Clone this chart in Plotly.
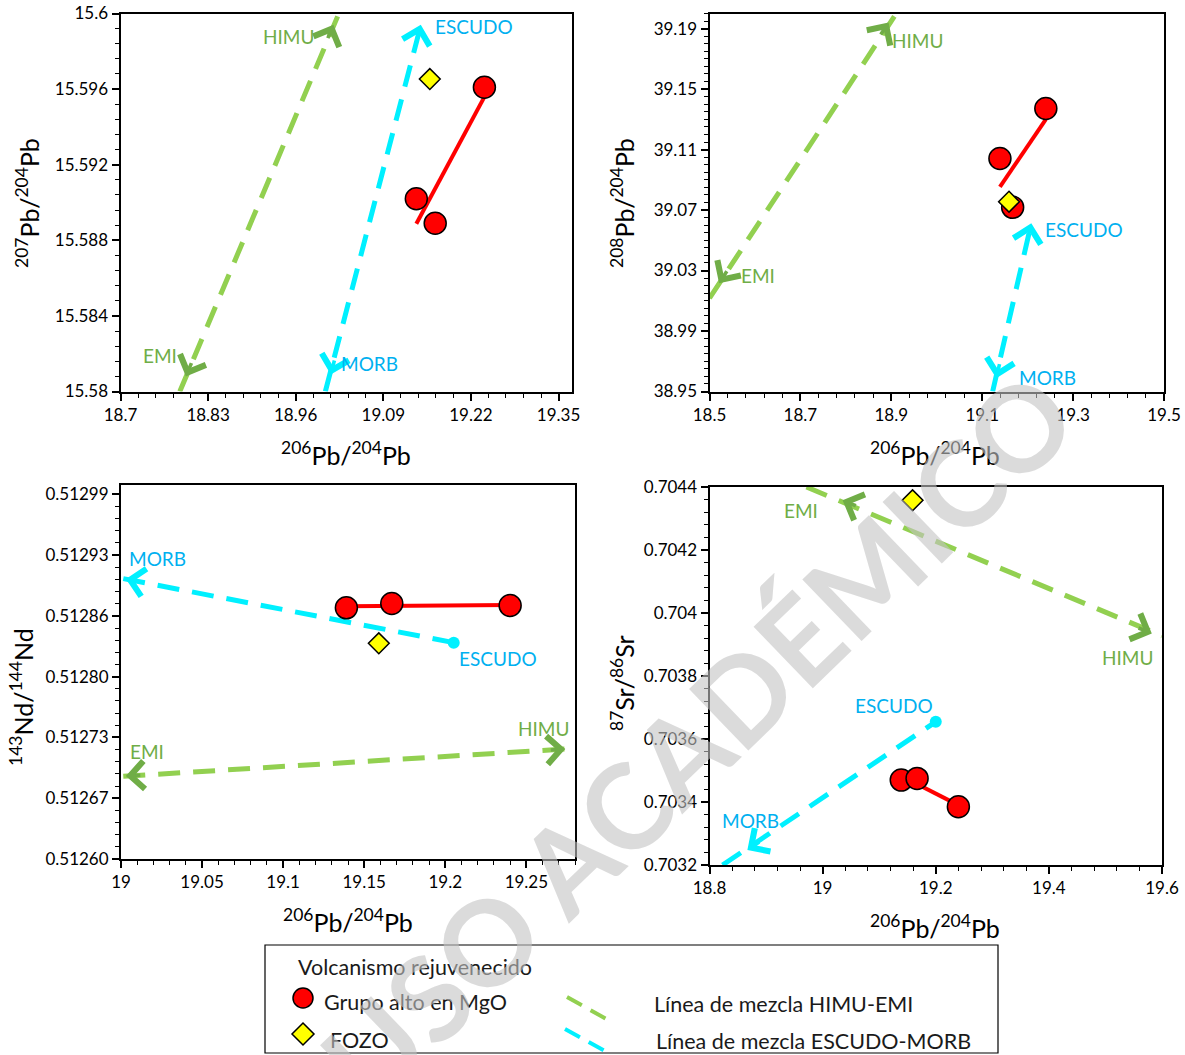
import numpy as np
import plotly.graph_objects as go

W, H = 1185, 1055
FONT = "Lato"
GREEN = "#92D050"
GREEN_D = "#70AD47"
CYAN = "#00F0FF"
BLUE = "#00B0F0"

# ---------------- data ----------------
# Volcanismo rejuvenecido - Grupo alto en MgO
pb206_mgo = [19.139, 19.167, 19.240]
pb207_mgo = [15.5902, 15.5889, 15.5961]
pb208_mgo = [39.1041, 39.0718, 39.1372]
nd143_mgo = [0.5128686, 0.5128732, 0.5128711]
sr87_mgo = [0.7034696, 0.7034749, 0.7033850]

# FOZO
pb206_fozo = [19.159]
pb207_fozo = [15.59653]
pb208_fozo = [39.0755]
nd143_fozo = [0.5128307]
sr87_fozo = [0.7043577]

# mixing lines: [EMI end, HIMU end] and [MORB end, ESCUDO end]
p1_himu_emi_x = [18.788, 19.024]
p1_himu_emi_y = [15.58, 15.6]
p1_escudo_morb_x = [19.004, 19.148]
p1_escudo_morb_y = [15.58, 15.5997]
p2_himu_emi_x = [18.5, 18.911]
p2_himu_emi_y = [39.0117, 39.2]
p2_escudo_morb_x = [19.123, 19.208]
p2_escudo_morb_y = [38.95, 39.0612]
p3_himu_emi_x = [19.0014, 19.2755]
p3_himu_emi_y = [0.5126884, 0.5127178]
p3_escudo_morb_x = [19.0014, 19.2052]
p3_escudo_morb_y = [0.5128999, 0.5128314]
p4_himu_emi_x = [18.9714, 19.6]
p4_himu_emi_y = [0.7044, 0.7039274]
p4_escudo_morb_x = [18.823, 19.2]
p4_escudo_morb_y = [0.7032, 0.7036546]

# arrow heads positions [EMI/MORB head, HIMU/ESCUDO head]; None -> round end
p1_himu_emi_head_x = [18.797, 19.016]
p1_himu_emi_head_y = [15.5808, 15.5994]
p1_escudo_morb_head_x = [19.012, 19.1456]
p1_escudo_morb_head_y = [15.5809, 15.5994]
p2_himu_emi_head_x = [18.521, 18.894]
p2_himu_emi_head_y = [39.0216, 39.194]
p2_escudo_morb_head_x = [19.131, 19.208]
p2_escudo_morb_head_y = [38.9588, 39.0612]
p3_himu_emi_head_x = [19.003, 19.274]
p3_himu_emi_head_y = [0.5126887, 0.5127176]
p3_escudo_morb_head_x = [19.003, None]
p3_escudo_morb_head_y = [0.5128994, None]
p4_himu_emi_head_x = [19.0353, 19.582]
p4_himu_emi_head_y = [0.704358, 0.7039348]
p4_escudo_morb_head_x = [18.867, None]
p4_escudo_morb_head_y = [0.7032476, None]

# end-member labels
label_text = ["HIMU", "EMI", "ESCUDO", "MORB"]
p1_label_x = [18.95, 18.758, 19.225, 19.07]
p1_label_y = [15.59877, 15.58189, 15.5993, 15.5815]
p2_label_x = [18.9585, 18.607, 19.323, 19.2435]
p2_label_y = [39.1819, 39.0264, 39.0572, 38.9595]
p3_label_x = [19.2606, 19.0158, 19.2323, 19.0227]
p3_label_y = [0.5127398, 0.5127153, 0.5128147, 0.5129219]
p4_label_x = [19.5395, 18.961, 19.126, 18.872]
p4_label_y = [0.7038576, 0.704326, 0.7037075, 0.7033406]

# tick labels
p1_xticks = ["18.7", "18.83", "18.96", "19.09", "19.22", "19.35"]
p1_yticks = ["15.58", "15.584", "15.588", "15.592", "15.596", "15.6"]
p2_xticks = ["18.5", "18.7", "18.9", "19.1", "19.3", "19.5"]
p2_yticks = ["38.95", "38.99", "39.03", "39.07", "39.11", "39.15", "39.19"]
p3_xticks = ["19", "19.05", "19.1", "19.15", "19.2", "19.25"]
p3_ytick_vals = [0.5126, 0.512665, 0.51273, 0.512795, 0.51286, 0.512925, 0.51299]
p3_ytick_text = ["0.51260", "0.51267", "0.51273", "0.51280", "0.51286", "0.51293", "0.51299"]
p4_xticks = ["18.8", "19", "19.2", "19.4", "19.6"]
p4_yticks = ["0.7032", "0.7034", "0.7036", "0.7038", "0.704", "0.7042", "0.7044"]

x_title = "<sup>206</sup>Pb/<sup>204</sup>Pb"
y_titles = ["<sup>207</sup>Pb/<sup>204</sup>Pb", "<sup>208</sup>Pb/<sup>204</sup>Pb",
            "<sup>143</sup>Nd/<sup>144</sup>Nd", "<sup>87</sup>Sr/<sup>86</sup>Sr"]


def px(v):
    return v / W


def py(v):
    return 1 - v / H


def minor_vals(rng, start, step):
    n = int(round((rng[1] - start) / step)) + 1
    return [start + k * step for k in range(n) if start + k * step <= rng[1] + step * 1e-6]


fig = go.Figure()

panels = [
    dict(n="", ydata=pb207_mgo, yfozo=pb207_fozo,
         he=(p1_himu_emi_x, p1_himu_emi_y, p1_himu_emi_head_x, p1_himu_emi_head_y),
         em=(p1_escudo_morb_x, p1_escudo_morb_y, p1_escudo_morb_head_x, p1_escudo_morb_head_y),
         lab=(p1_label_x, p1_label_y),
         xdom=(120.5, 572), ydom=(13.5, 391.5), xr=[18.7, 19.37], yr=[15.58, 15.6],
         xt=([float(t) for t in p1_xticks], p1_xticks), yt=([float(t) for t in p1_yticks], p1_yticks),
         xminor=(18.7, 0.026), yminor=(15.58, 0.0008),
         xtitle=(346, 453), ytitle=(27, 203)),
    dict(n="2", ydata=pb208_mgo, yfozo=pb208_fozo,
         he=(p2_himu_emi_x, p2_himu_emi_y, p2_himu_emi_head_x, p2_himu_emi_head_y),
         em=(p2_escudo_morb_x, p2_escudo_morb_y, p2_escudo_morb_head_x, p2_escudo_morb_head_y),
         lab=(p2_label_x, p2_label_y),
         xdom=(709.5, 1164), ydom=(13.5, 391.5), xr=[18.5, 19.5], yr=[38.95, 39.2],
         xt=([float(t) for t in p2_xticks], p2_xticks), yt=([float(t) for t in p2_yticks], p2_yticks),
         xminor=(18.5, 0.04), yminor=(38.95, 0.005),
         xtitle=(935, 453), ytitle=(622, 203)),
    dict(n="3", ydata=nd143_mgo, yfozo=nd143_fozo,
         he=(p3_himu_emi_x, p3_himu_emi_y, p3_himu_emi_head_x, p3_himu_emi_head_y),
         em=(p3_escudo_morb_x, p3_escudo_morb_y, p3_escudo_morb_head_x, p3_escudo_morb_head_y),
         lab=(p3_label_x, p3_label_y),
         xdom=(121, 575), ydom=(485, 859), xr=[19.0, 19.28], yr=[0.5126, 0.513],
         xt=([float(t) for t in p3_xticks], p3_xticks), yt=(p3_ytick_vals, p3_ytick_text),
         xminor=(19.0, 0.01), yminor=(0.5126, 0.000013),
         xtitle=(348, 920), ytitle=(21, 697)),
    dict(n="4", ydata=sr87_mgo, yfozo=sr87_fozo,
         he=(p4_himu_emi_x, p4_himu_emi_y, p4_himu_emi_head_x, p4_himu_emi_head_y),
         em=(p4_escudo_morb_x, p4_escudo_morb_y, p4_escudo_morb_head_x, p4_escudo_morb_head_y),
         lab=(p4_label_x, p4_label_y),
         xdom=(709.5, 1162), ydom=(487, 865), xr=[18.8, 19.6], yr=[0.7032, 0.7044],
         xt=([float(t) for t in p4_xticks], p4_xticks), yt=([float(t) for t in p4_yticks], p4_yticks),
         xminor=(18.8, 0.04), yminor=(0.7032, 0.00004),
         xtitle=(935, 926), ytitle=(622, 683)),
]

annotations = []
shapes = []
layout_axes = {}
tickfont = dict(family=FONT, size=17, color="black")
DASH = "22px,13px"

for i, p in enumerate(panels):
    n = p["n"]
    xa, ya = "x" + n, "y" + n
    common = dict(xaxis=xa, yaxis=ya, showlegend=False, hoverinfo="skip")
    sx = (p["xdom"][1] - p["xdom"][0]) / (p["xr"][1] - p["xr"][0])
    sy = (p["ydom"][1] - p["ydom"][0]) / (p["yr"][1] - p["yr"][0])

    # HIMU-EMI mixing line
    hx, hy, hhx, hhy = p["he"]
    fig.add_trace(go.Scatter(x=hx, y=hy, mode="lines",
                             line=dict(color=GREEN, width=5, dash=DASH), **common))
    # ESCUDO-MORB mixing line
    ex, ey, ehx, ehy = p["em"]
    fig.add_trace(go.Scatter(x=ex, y=ey, mode="lines",
                             line=dict(color=CYAN, width=5, dash=DASH), **common))
    if ehx[1] is None:
        fig.add_trace(go.Scatter(x=[ex[1]], y=[ey[1]], mode="markers",
                                 marker=dict(color=CYAN, size=12, symbol="circle"), **common))

    # arrow heads
    for lx, ly, hxs, hys, col in [(hx, hy, hhx, hhy, GREEN_D), (ex, ey, ehx, ehy, CYAN)]:
        length = np.hypot((lx[1] - lx[0]) * sx, (ly[1] - ly[0]) * sy)
        f = 16.0 / length
        for k in range(2):
            if hxs[k] is None:
                continue
            o = 1 - k
            tx = hxs[k] + f * (lx[o] - lx[k])
            ty = hys[k] + f * (ly[o] - ly[k])
            annotations.append(dict(x=hxs[k], y=hys[k], ax=tx, ay=ty, xref=xa, yref=ya,
                                    axref=xa, ayref=ya, text="", showarrow=True,
                                    arrowhead=4, arrowsize=1.5, arrowwidth=3.6,
                                    arrowcolor=col, standoff=0))

    # trend line of the high-MgO group
    m, b = np.polyfit(pb206_mgo, p["ydata"], 1)
    tx = np.array([min(pb206_mgo), max(pb206_mgo)])
    fig.add_trace(go.Scatter(x=tx, y=m * tx + b, mode="lines",
                             line=dict(color="#FF0000", width=4), **common))
    fig.add_trace(go.Scatter(x=pb206_mgo, y=p["ydata"], mode="markers",
                             marker=dict(color="#FF0000", size=22, symbol="circle",
                                         line=dict(color="black", width=1.5)), **common))
    fig.add_trace(go.Scatter(x=pb206_fozo, y=p["yfozo"], mode="markers",
                             marker=dict(color="#FFFF00", size=16, symbol="diamond",
                                         line=dict(color="black", width=1.5)), **common))

    # end-member labels
    lxs, lys = p["lab"]
    for t, x, y in zip(label_text, lxs, lys):
        col = GREEN_D if t in ("HIMU", "EMI") else BLUE
        annotations.append(dict(x=x, y=y, xref=xa, yref=ya, text=t, showarrow=False,
                                font=dict(family=FONT, size=19, color=col),
                                xanchor="center", yanchor="middle"))

    # axes
    axis_common = dict(showline=True, linecolor="black", linewidth=2, mirror=True,
                       showgrid=False, zeroline=False, ticks="outside", ticklen=7,
                       tickwidth=1.5, tickcolor="black", tickfont=tickfont,
                       tickmode="array", automargin=False)
    layout_axes["xaxis" + n] = dict(
        domain=[px(p["xdom"][0]), px(p["xdom"][1])], anchor=ya, range=p["xr"],
        tickvals=p["xt"][0], ticktext=p["xt"][1],
        minor=dict(tickmode="array", tickvals=minor_vals(p["xr"], *p["xminor"]),
                   ticks="outside", ticklen=4, tickwidth=1.2, tickcolor="black",
                   showgrid=False),
        **axis_common)
    layout_axes["yaxis" + n] = dict(
        domain=[py(p["ydom"][1]), py(p["ydom"][0])], anchor=xa, range=p["yr"],
        tickvals=p["yt"][0], ticktext=p["yt"][1],
        minor=dict(tickmode="array", tickvals=minor_vals(p["yr"], *p["yminor"]),
                   ticks="outside", ticklen=4, tickwidth=1.2, tickcolor="black",
                   showgrid=False),
        **axis_common)

    # axis titles
    annotations.append(dict(x=px(p["xtitle"][0]), y=py(p["xtitle"][1]), xref="paper",
                            yref="paper", text=x_title, showarrow=False,
                            font=dict(family=FONT, size=25, color="black"),
                            xanchor="center", yanchor="middle"))
    annotations.append(dict(x=px(p["ytitle"][0]), y=py(p["ytitle"][1]), xref="paper",
                            yref="paper", text=y_titles[i], showarrow=False, textangle=-90,
                            font=dict(family=FONT, size=25, color="black"),
                            xanchor="center", yanchor="middle"))

# ---------------- legend box ----------------
shapes.append(dict(type="rect", xref="paper", yref="paper", x0=px(265), x1=px(998),
                   y0=py(1053), y1=py(945), line=dict(color="black", width=1.2),
                   fillcolor="white", layer="below"))
shapes.append(dict(type="circle", xref="paper", yref="paper", x0=px(293), x1=px(313),
                   y0=py(1008), y1=py(988), fillcolor="#FF0000",
                   line=dict(color="black", width=1.5)))
dcx, dcy, dr = 303, 1034, 11
shapes.append(dict(type="path", xref="paper", yref="paper",
                   path=f"M{px(dcx)},{py(dcy - dr)} L{px(dcx + dr)},{py(dcy)} "
                        f"L{px(dcx)},{py(dcy + dr)} L{px(dcx - dr)},{py(dcy)} Z",
                   fillcolor="#FFFF00", line=dict(color="black", width=1.5)))
shapes.append(dict(type="line", xref="paper", yref="paper", x0=px(567), y0=py(997),
                   x1=px(610), y1=py(1021), line=dict(color=GREEN, width=4, dash="17px,10px")))
shapes.append(dict(type="line", xref="paper", yref="paper", x0=px(565), y0=py(1029),
                   x1=px(607), y1=py(1052), line=dict(color=CYAN, width=4, dash="17px,10px")))

legend_items = [("Volcanismo rejuvenecido", 296, 967), ("Grupo alto en MgO", 322, 1002),
                ("FOZO", 328, 1040), ("Línea de mezcla HIMU-EMI", 652, 1004),
                ("Línea de mezcla ESCUDO-MORB", 654, 1041)]
for t, x, y in legend_items:
    annotations.append(dict(x=px(x), y=py(y), xref="paper", yref="paper", text=t,
                            showarrow=False, xanchor="left", yanchor="middle",
                            font=dict(family=FONT, size=21.5, color="#1a1a1a")))

# watermark
annotations.append(dict(x=px(696), y=py(737), xref="paper", yref="paper",
                        text="<b>USO ACADÉMICO</b>", showarrow=False, textangle=-44,
                        font=dict(family=FONT, size=118, color="#c4c4c4"), opacity=0.6,
                        xanchor="center", yanchor="middle"))

fig.update_layout(width=W, height=H,
                  margin=dict(l=0, r=0, t=0, b=0, pad=0, autoexpand=False),
                  plot_bgcolor="white", paper_bgcolor="white", showlegend=False,
                  annotations=annotations, shapes=shapes, **layout_axes)

fig.write_html("out.html")
